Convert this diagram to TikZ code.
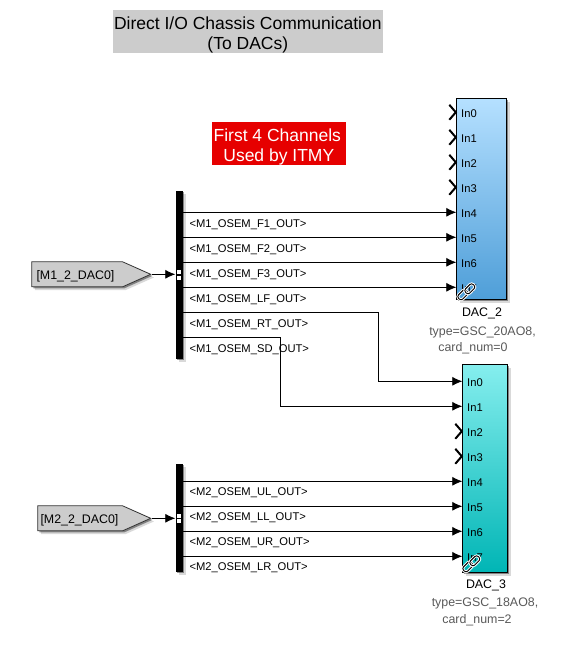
\documentclass[tikz,border=0pt]{standalone}
\usepackage{xcolor}
\usepackage{fontspec}
\setmainfont{Liberation Sans}
\usetikzlibrary{positioning,arrows.meta,shapes.symbols,shadows}

\definecolor{notegray}{HTML}{CCCCCC}
\definecolor{notered}{HTML}{E60000}
\definecolor{paramgray}{HTML}{595959}

\tikzset{
  blockshadow/.style={drop shadow={shadow xshift=3.2pt, shadow yshift=-3.2pt, fill=black, opacity=0.15},
    drop shadow={shadow xshift=1.6pt, shadow yshift=-1.6pt, fill=black, opacity=0.4}},
  notebox/.style={align=center, inner sep=0pt, font=\fontsize{17.5}{20}\selectfont},
  gotobox/.style={signal, signal to=east, signal pointer angle=48, draw=black!80, fill=notegray, line width=0.8pt,
    minimum width=119pt, minimum height=25pt, inner sep=0pt, anchor=west, blockshadow},
  blocktext/.style={font=\fontsize{12.4}{14}\selectfont, inner sep=0pt},
  paramtext/.style={blocktext, text=paramgray},
  busbar/.style={fill=black, inner sep=0pt, minimum width=7pt, anchor=north west, blockshadow},
  buscell/.style={fill=white, draw=black, line width=0.5pt, inner sep=0pt, minimum width=5.5pt, minimum height=5pt},
  dacblock/.style={draw=black, line width=1.1pt, inner sep=0pt, anchor=north west, blockshadow},
  portlabel/.style={font=\fontsize{11.2}{13}\selectfont, inner sep=0pt, anchor=west, text height=11pt, text depth=0pt},
  siglabel/.style={font=\fontsize{11.2}{13}\selectfont, inner sep=0pt, anchor=west, yshift=-2pt},
  sig/.style={line width=0.8pt, -{Latex[length=10pt,width=9pt]}},
  freeport/.style={line width=2pt},
  linkmark/.style={line width=0.9pt, rounded corners=2.5pt, preaction={draw=white, line width=2.8pt}},
}

\begin{document}
\begin{tikzpicture}[x=1pt, y=-1pt]
  \useasboundingbox (0.7,0.7) rectangle (561.7,655.7);

  % Notes
  \node[notebox, fill=notegray, minimum width=270pt, minimum height=42pt] (title) at (248.5,32.5) {\rule{0pt}{19pt}Direct I/O Chassis Communication\\(To DACs)};
  \node[notebox, fill=notered, text=white, minimum width=134pt, minimum height=42pt] (itmynote) at (279.5,144.5) {\rule{0pt}{19pt}First 4 Channels\hspace*{3pt}\\Used by ITMY};

  % Goto blocks
  \node[gotobox] (m1goto) at (32,275) {};
  \node[blocktext, right=5pt of m1goto.west, yshift=-1.5pt] (m1gotolabel) {[M1\_2\_DAC0]};
  \node[gotobox, minimum width=113pt] (m2goto) at (38,519) {};
  \node[blocktext, right=3pt of m2goto.west, yshift=-1.5pt] (m2gotolabel) {[M2\_2\_DAC0]};

  % Bus selectors
  \node[busbar, minimum height=168pt] (m1bus) at (176,191) {};
  \node[busbar, minimum height=108pt] (m2bus) at (176,464) {};
  \node[buscell] (m1cella) at (179.5,272.5) {};
  \node[buscell, below=0pt of m1cella] (m1cellb) {};
  \node[buscell] (m2cella) at (179.5,516) {};
  \node[buscell, below=0pt of m2cella] (m2cellb) {};
  \draw[sig] (m1goto.east) -- (m1bus.west |- m1goto.east);
  \draw[sig] (m2goto.east) -- (m2bus.west |- m2goto.east);

  % DAC_2 block
  \node[dacblock, top color={rgb,255:red,181;green,224;blue,255}, bottom color={rgb,255:red,78;green,158;blue,216}, minimum width=50pt, minimum height=201pt] (dac2) at (457,99) {};
  \node[portlabel] (dac2in0) at (461.7,113) {In0};
  \node[portlabel] (dac2in1) at (461.7,138) {In1};
  \node[portlabel] (dac2in2) at (461.7,163) {In2};
  \node[portlabel] (dac2in3) at (461.7,188) {In3};
  \node[portlabel] (dac2in4) at (461.7,213) {In4};
  \node[portlabel] (dac2in5) at (461.7,238) {In5};
  \node[portlabel] (dac2in6) at (461.7,263) {In6};
  \node[portlabel] (dac2in7) at (461.7,288) {In7};
  \node[blocktext] (dac2name) at (482.7,314.5) {DAC\_2};
  \node[paramtext] (dac2type) at (483.2,333) {type=GSC\_20AO8,};
  \node[paramtext] (dac2card) at (473.7,349) {card\_num=0};

  % DAC_3 block
  \node[dacblock, top color={rgb,255:red,133;green,238;blue,238}, bottom color={rgb,255:red,0;green,181;blue,181}, minimum width=45pt, minimum height=208pt] (dac3) at (463,365) {};
  \node[portlabel] (dac3in0) at (467.7,382) {In0};
  \node[portlabel] (dac3in1) at (467.7,407) {In1};
  \node[portlabel] (dac3in2) at (467.7,432) {In2};
  \node[portlabel] (dac3in3) at (467.7,457) {In3};
  \node[portlabel] (dac3in4) at (467.7,482) {In4};
  \node[portlabel] (dac3in5) at (467.7,507) {In5};
  \node[portlabel] (dac3in6) at (467.7,532) {In6};
  \node[portlabel] (dac3in7) at (467.7,557) {In7};
  \node[blocktext] (dac3name) at (486.7,586.5) {DAC\_3};
  \node[paramtext] (dac3type) at (485.7,604) {type=GSC\_18AO8,};
  \node[paramtext] (dac3card) at (477.7,621) {card\_num=2};

  % Unconnected ports
  \draw[freeport] (dac2.west |- dac2in0) ++(-7,-7.5) -- ++(6.5,7.5) -- ++(-6.5,7.5);
  \draw[freeport] (dac2.west |- dac2in1) ++(-7,-7.5) -- ++(6.5,7.5) -- ++(-6.5,7.5);
  \draw[freeport] (dac2.west |- dac2in2) ++(-7,-7.5) -- ++(6.5,7.5) -- ++(-6.5,7.5);
  \draw[freeport] (dac2.west |- dac2in3) ++(-7,-7.5) -- ++(6.5,7.5) -- ++(-6.5,7.5);
  \draw[freeport] (dac3.west |- dac3in2) ++(-7,-7.5) -- ++(6.5,7.5) -- ++(-6.5,7.5);
  \draw[freeport] (dac3.west |- dac3in3) ++(-7,-7.5) -- ++(6.5,7.5) -- ++(-6.5,7.5);

  % M1 signals
  \draw[sig] (m1bus.east |- dac2in4) -- (dac2.west |- dac2in4);
  \draw[sig] (m1bus.east |- dac2in5) -- (dac2.west |- dac2in5);
  \draw[sig] (m1bus.east |- dac2in6) -- (dac2.west |- dac2in6);
  \draw[sig] (m1bus.east |- dac2in7) -- (dac2.west |- dac2in7);
  \coordinate (rtout) at (183,313);
  \coordinate (sdout) at (183,338);
  \draw[sig] (rtout) -| (379,382) -- (dac3.west |- dac3in0);
  \draw[sig] (sdout) -| (281,407) -- (dac3.west |- dac3in1);
  \node[siglabel] (m1f1) at (190,223) {<M1\_OSEM\_F1\_OUT>};
  \node[siglabel] (m1f2) at (190,248) {<M1\_OSEM\_F2\_OUT>};
  \node[siglabel] (m1f3) at (190,273) {<M1\_OSEM\_F3\_OUT>};
  \node[siglabel] (m1lf) at (190,298) {<M1\_OSEM\_LF\_OUT>};
  \node[siglabel] (m1rt) at (190,323) {<M1\_OSEM\_RT\_OUT>};
  \node[siglabel] (m1sd) at (190,348) {<M1\_OSEM\_SD\_OUT>};

  % M2 signals
  \draw[sig] (m2bus.east |- dac3in4) -- (dac3.west |- dac3in4);
  \draw[sig] (m2bus.east |- dac3in5) -- (dac3.west |- dac3in5);
  \draw[sig] (m2bus.east |- dac3in6) -- (dac3.west |- dac3in6);
  \draw[sig] (m2bus.east |- dac3in7) -- (dac3.west |- dac3in7);
  \node[siglabel] (m2ul) at (190,491) {<M2\_OSEM\_UL\_OUT>};
  \node[siglabel] (m2ll) at (190,516) {<M2\_OSEM\_LL\_OUT>};
  \node[siglabel] (m2ur) at (190,541) {<M2\_OSEM\_UR\_OUT>};
  \node[siglabel] (m2lr) at (190,566) {<M2\_OSEM\_LR\_OUT>};

  % Library link marks
  \draw[linkmark, rotate around={45:(463.5,295.5)}] (458,292.5) rectangle (469,298.5);
  \draw[linkmark, rotate around={45:(470.5,289.5)}] (465,286.5) rectangle (476,292.5);
  \draw[linkmark, rotate around={45:(468.5,567.5)}] (463,564.5) rectangle (474,570.5);
  \draw[linkmark, rotate around={45:(475.5,561.5)}] (470,558.5) rectangle (481,564.5);
\end{tikzpicture}
\end{document}
